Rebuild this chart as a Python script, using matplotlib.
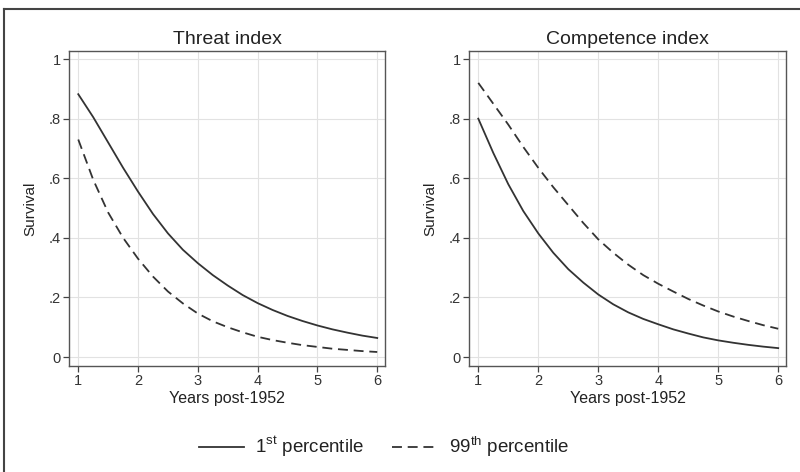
import numpy as np
import matplotlib
matplotlib.use('Agg')
import matplotlib.pyplot as plt
from matplotlib.lines import Line2D

plt.rcParams['font.family'] = ['Liberation Sans', 'DejaVu Sans']
plt.rcParams['mathtext.fontset'] = 'custom'
plt.rcParams['mathtext.rm'] = 'Liberation Sans'

# values
years = [1, 1.25, 1.5, 1.75, 2, 2.25, 2.5, 2.75, 3, 3.25, 3.5, 3.75, 4,
         4.25, 4.5, 4.75, 5, 5.25, 5.5, 5.75, 6]

threat_p1 = [0.882, 0.805, 0.72, 0.635, 0.555, 0.48, 0.415, 0.36, 0.315, 0.275, 0.24, 0.208, 0.181,
             0.158, 0.138, 0.121, 0.106, 0.093, 0.082, 0.072, 0.064]
threat_p99 = [0.73, 0.595, 0.485, 0.40, 0.33, 0.27, 0.22, 0.18, 0.146, 0.12, 0.10, 0.083, 0.068,
              0.057, 0.048, 0.040, 0.034, 0.028, 0.024, 0.020, 0.017]

comp_p1 = [0.80, 0.685, 0.58, 0.49, 0.415, 0.35, 0.295, 0.25, 0.21, 0.177, 0.15, 0.128, 0.11,
           0.093, 0.079, 0.066, 0.056, 0.048, 0.041, 0.035, 0.030]
comp_p99 = [0.92, 0.85, 0.78, 0.705, 0.635, 0.57, 0.51, 0.45, 0.395, 0.35, 0.31, 0.275, 0.246,
            0.22, 0.195, 0.173, 0.153, 0.136, 0.121, 0.107, 0.095]

titles = ['Threat index', 'Competence index']
xticks = [1, 2, 3, 4, 5, 6]
yticks = [0, 0.2, 0.4, 0.6, 0.8, 1]
yticklabels = ['0', '.2', '.4', '.6', '.8', '1']
legend_labels = [r'1$^{\mathrm{st}}$ percentile', r'99$^{\mathrm{th}}$ percentile']

W, H = 800, 472
fig = plt.figure(figsize=(8, 4.72), dpi=100)
fig.patch.set_facecolor('white')

line_col = '#333333'
dash = (0, (5.5, 3.2))
panels = [(69, 385, threat_p1, threat_p99), (469, 786, comp_p1, comp_p99)]
for i, (x0, x1, p1, p99) in enumerate(panels):
    top, bot = 51, 366
    ax = fig.add_axes([x0 / W, 1 - bot / H, (x1 - x0) / W, (bot - top) / H])
    ax.plot(years, p1, color=line_col, lw=1.3, ls='-')
    ax.plot(years, p99, color=line_col, lw=1.3, ls=dash)
    ax.set_xlim(0.845, 6.13)
    ax.set_ylim(-0.030, 1.027)
    ax.set_xticks(xticks)
    ax.set_yticks(yticks)
    ax.set_yticklabels(yticklabels)
    ax.grid(True, color='#e2e2e2', lw=0.8)
    ax.set_axisbelow(True)
    for s in ax.spines.values():
        s.set_color('#555555')
        s.set_linewidth(1.0)
    ax.tick_params(colors='#444444', labelcolor='#333333', labelsize=10.5, length=4, width=0.9, pad=2)
    ax.set_title(titles[i], fontsize=14, color='#222222', pad=5)
    ax.set_xlabel('Years post-1952', fontsize=11.5, color='#222222', labelpad=2)
    ax.set_ylabel('Survival', fontsize=11, color='#222222', labelpad=8)

handles = [Line2D([], [], color=line_col, lw=1.3, ls='-'),
           Line2D([], [], color=line_col, lw=1.3, ls=dash)]
fig.legend(handles, legend_labels, loc='center', bbox_to_anchor=(384 / W, 1 - 447 / H),
           ncol=2, frameon=False, fontsize=13.5, handlelength=2.4, columnspacing=1.5,
           handletextpad=0.6, labelcolor='#222222')

# outer frame (top and left edges visible)
fig.add_artist(Line2D([4 / W, 1], [1 - 9 / H, 1 - 9 / H], transform=fig.transFigure,
                      color='#444444', lw=1.5))
fig.add_artist(Line2D([4 / W, 4 / W], [0, 1 - 9 / H], transform=fig.transFigure,
                      color='#444444', lw=1.5))

fig.savefig('out.png', dpi=100)
